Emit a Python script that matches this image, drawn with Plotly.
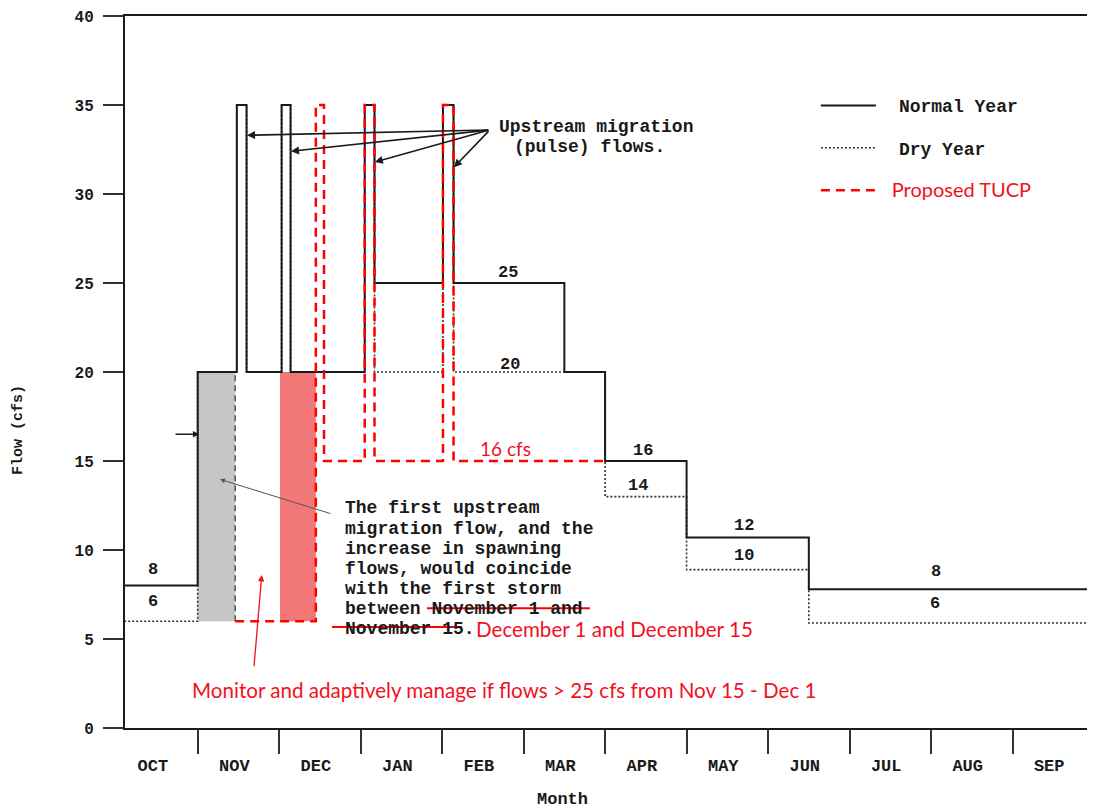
import plotly.graph_objects as go

# ---------------- data ----------------
months = ["OCT", "NOV", "DEC", "JAN", "FEB", "MAR", "APR", "MAY", "JUN", "JUL", "AUG", "SEP"]
month_label_pos = [i + 0.45 for i in range(12)]
month_bounds = list(range(1, 12))

# step schedules: x = time in months from Oct 1 where the flow changes, y = flow (cfs) from then on
normal_x = [0, 1.0, 1.48, 1.60, 2.03, 2.14, 3.05, 3.17, 4.01, 4.14, 5.5, 6.0, 7.0, 8.5, 12.0]
normal_y = [8, 20, 35, 20, 35, 20, 35, 25, 35, 25, 20, 15, 10.7, 7.8, 7.8]

dry_x = [0, 1.0, 1.48, 1.60, 2.03, 2.14, 3.05, 3.17, 4.01, 4.14, 6.0, 7.0, 8.5, 12.0]
dry_y = [6, 20, 35, 20, 35, 20, 35, 20, 35, 20, 13, 8.9, 5.9, 5.9]

tucp_x = [1.46, 2.45, 2.55, 3.05, 3.17, 4.01, 4.14, 6.0]
tucp_y = [6, 35, 15, 35, 15, 35, 15, 15]

# shaded periods (x-start, x-end) and (flow low, flow high)
grey_box_x = [1.0, 1.46]
grey_box_y = [6, 20]
red_box_x = [2.01, 2.45]
red_box_y = [6, 20]

# value labels
value_label_text = ["8", "6", "25", "20", "16", "14", "12", "10", "8", "6"]
value_label_x = [0.45, 0.45, 4.81, 4.83, 6.46, 6.40, 7.71, 7.71, 10.06, 10.05]
value_label_y = [8.9, 7.1, 25.6, 20.4, 15.6, 13.6, 11.4, 9.7, 8.8, 7.0]

MONO = "Liberation Mono"
SANS = "Lato"
RED = "#FF0000"
RED_TXT = "#F2101E"
INK = "#1a1a1a"
GAP2 = '<span style="font-size:15px">\u00a0\u00a0</span>'
GAP1 = "\u00a0"

def b(t):
    return "<b>" + t + "</b>"

fig = go.Figure()

def box(xs, ys, color):
    return go.Scatter(
        x=[xs[0], xs[1], xs[1], xs[0], xs[0]],
        y=[ys[0], ys[0], ys[1], ys[1], ys[0]],
        fill="toself", fillcolor=color, mode="lines",
        line=dict(width=0), showlegend=False, hoverinfo="skip")

fig.add_trace(box(grey_box_x, grey_box_y, "#c6c6c6"))
fig.add_trace(box(red_box_x, red_box_y, "#F27878"))
# dashed right edge of grey box
fig.add_trace(go.Scatter(x=[grey_box_x[1], grey_box_x[1]], y=grey_box_y, mode="lines",
                         line=dict(color="#555", width=1.5, dash="6px,4px"),
                         showlegend=False, hoverinfo="skip"))

fig.add_trace(go.Scatter(x=dry_x, y=dry_y, mode="lines", line_shape="hv",
                         line=dict(color="#333", width=1.6, dash="2px,2px"),
                         name=GAP2 + b("Dry Year"), legendgroup="b", legendrank=2))
fig.add_trace(go.Scatter(x=normal_x, y=normal_y, mode="lines", line_shape="hv",
                         line=dict(color=INK, width=2),
                         name=GAP2 + b("Normal Year"), legendgroup="a", legendrank=1))
fig.add_trace(go.Scatter(x=tucp_x, y=tucp_y, mode="lines", line_shape="hv",
                         line=dict(color=RED, width=2.5, dash="9px,6px"),
                         name=GAP1 + '<span style="font-family:Lato;font-size:20px;color:#F2101E">Proposed TUCP</span>',
                         legendgroup="c", legendrank=3))

ann = []
for t, x, y in zip(value_label_text, value_label_x, value_label_y):
    ann.append(dict(x=x, y=y, text=b(t), showarrow=False, xanchor="center", yanchor="middle",
                    font=dict(family=MONO, size=17, color=INK)))

# upstream migration pulse annotation
ann.append(dict(x=4.672, y=33.76, text=b("Upstream migration"), showarrow=False, xanchor="left",
                yanchor="middle", font=dict(family=MONO, size=18, color=INK)))
ann.append(dict(x=4.856, y=32.64, text=b("(pulse) flows."), showarrow=False, xanchor="left",
                yanchor="middle", font=dict(family=MONO, size=18, color=INK)))
for tx, ty in [(1.606, 33.3), (2.145, 32.4), (3.174, 31.8), (4.145, 31.5)]:
    ann.append(dict(x=tx, y=ty, ax=4.586, ay=33.6, axref="x", ayref="y", text="",
                    showarrow=True, arrowhead=2, arrowsize=1, arrowwidth=1.6, arrowcolor=INK))

# small arrow pointing at the grey box
ann.append(dict(x=1.02, y=16.5, ax=0.71, ay=16.5, axref="x", ayref="y", text="",
                showarrow=True, arrowhead=2, arrowsize=0.8, arrowwidth=1.6, arrowcolor=INK))

# explanatory text block
block = ["The first upstream", "migration flow, and the", "increase in spawning",
         "flows, would coincide", "with the first storm", "between November 1 and",
         "November 15."]
block_y = [12.36, 11.19, 10.05, 8.93, 7.82, 6.70, 5.59]
for t, y in zip(block, block_y):
    ann.append(dict(x=2.787, y=y, text=b(t), showarrow=False, xanchor="left", yanchor="middle",
                    font=dict(family=MONO, size=18, color=INK)))
ann.append(dict(x=4.39, y=5.59, text="December 1 and December 15", showarrow=False,
                xanchor="left", yanchor="middle", font=dict(family=SANS, size=20.6, color=RED_TXT)))
# grey arrow from text to grey box
ann.append(dict(x=1.274, y=13.97, ax=2.648, ay=12.02, axref="x", ayref="y", text="",
                showarrow=True, arrowhead=2, arrowsize=1, arrowwidth=1, arrowcolor="#555"))

ann.append(dict(x=4.44, y=15.72, text="16 cfs", showarrow=False, xanchor="left", yanchor="middle",
                font=dict(family=SANS, size=19, color=RED_TXT)))
ann.append(dict(x=0.906, y=2.16, text="Monitor and adaptively manage if flows > 25 cfs from Nov 15 - Dec 1",
                showarrow=False, xanchor="left", yanchor="middle",
                font=dict(family=SANS, size=20.6, color=RED_TXT)))
ann.append(dict(x=1.786, y=8.6, ax=1.69, ay=3.38, axref="x", ayref="y", text="",
                showarrow=True, arrowhead=2, arrowsize=1, arrowwidth=1.3, arrowcolor=RED_TXT))

# axis titles
ann.append(dict(x=0.452, y=-0.1006, xref="paper", yref="paper", text=b("Month"), showarrow=False,
                xanchor="center", yanchor="middle", font=dict(family=MONO, size=17, color=INK)))
ann.append(dict(x=-0.1104, y=0.4185, xref="paper", yref="paper", text=b("Flow (cfs)"),
                showarrow=False, textangle=-90, xanchor="center", yanchor="middle",
                font=dict(family=MONO, size=15, color=INK)))

shapes = [
    dict(type="line", x0=3.814, x1=5.813, y0=6.73, y1=6.73, line=dict(color=RED, width=2)),
    dict(type="line", x0=2.648, x1=4.243, y0=5.67, y1=5.67, line=dict(color=RED, width=2)),
]

fig.update_layout(
    width=1095, height=812,
    margin=dict(l=117, r=9, t=8, b=92, autoexpand=False),
    paper_bgcolor="white", plot_bgcolor="white",
    annotations=ann, shapes=shapes,
    legend=dict(x=0.713, y=0.90, xanchor="left", yanchor="top", bgcolor="rgba(0,0,0,0)",
                font=dict(family=MONO, size=18, color=INK), tracegroupgap=16,
                traceorder="grouped", itemwidth=55),
    showlegend=True,
)
fig.update_xaxes(range=[0.108, 12.0], showgrid=False, zeroline=False, automargin=False,
                 showline=True, linecolor=INK, linewidth=2, mirror=True,
                 tickmode="array", tickvals=month_label_pos, ticktext=[b(m) for m in months],
                 ticks="", ticklabelstandoff=21, ticklabeloverflow="allow",
                 tickfont=dict(family=MONO, size=17, color=INK),
                 minor=dict(tickmode="array", tickvals=month_bounds, ticks="outside",
                            ticklen=24, tickwidth=1.5, tickcolor="#333"))
fig.update_yaxes(range=[0, 40], showgrid=False, zeroline=False, automargin=False,
                 showline=True, linecolor=INK, linewidth=2, mirror=True,
                 tickmode="array", tickvals=list(range(0, 41, 5)),
                 ticktext=[b(str(v)) for v in range(0, 41, 5)], ticks="outside",
                 ticklen=20, tickwidth=1.5, tickcolor="#333", ticklabelstandoff=6,
                 ticklabeloverflow="allow",
                 tickfont=dict(family=MONO, size=16, color=INK))

fig.write_html("out.html")
